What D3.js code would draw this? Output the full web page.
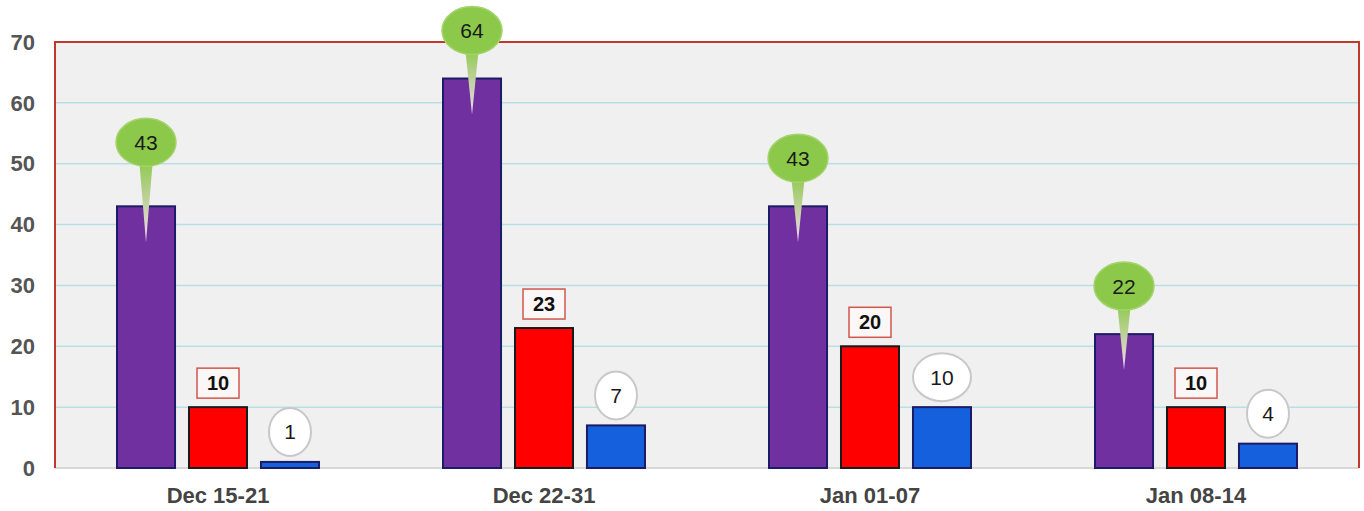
<!DOCTYPE html>
<html>
<head>
  <meta charset="utf-8">
  <title>Weekly counts</title>
  <script src="https://d3js.org/d3.v7.min.js"></script>
  <style>
    body { margin: 0; background: #fff; font-family: "Liberation Sans", Arial, sans-serif; }
  </style>
</head>
<body>
  <div id="chart"></div>
  <script>
    const weeks = ["Dec 15-21", "Dec 22-31", "Jan 01-07", "Jan 08-14"];
    const purpleVals = [43, 64, 43, 22];
    const redVals = [10, 23, 20, 10];
    const blueVals = [1, 7, 10, 4];
    const yTicks = [0, 10, 20, 30, 40, 50, 60, 70];

    const width = 1364, height = 511;
    const margin = { top: 42, right: 5, bottom: 43, left: 55 };
    const svg = d3.select("#chart").append("svg").attr("width", width).attr("height", height);

    const x = d3.scaleBand().domain(weeks).range([margin.left, width - margin.right]);
    const y = d3.scaleLinear().domain([0, 70]).range([height - margin.bottom, margin.top]);
    const sub = d3.scaleBand().domain(["p", "r", "b"])
      .range([x.bandwidth() / 2 - 101, x.bandwidth() / 2 + 101]).paddingInner(0.194);

    // plot background
    svg.append("rect")
      .attr("x", margin.left).attr("y", y(70))
      .attr("width", x.range()[1] - margin.left).attr("height", y(0) - y(70))
      .attr("fill", "#f0f0f0");

    // grid
    svg.selectAll(".grid").data(yTicks.filter(t => t > 0 && t < 70)).enter()
      .append("line")
      .attr("x1", margin.left).attr("x2", x.range()[1])
      .attr("y1", d => y(d)).attr("y2", d => y(d))
      .attr("stroke", "#b9dfe6").attr("stroke-width", 1.5);

    // frame
    svg.append("line").attr("x1", margin.left).attr("x2", x.range()[1])
      .attr("y1", y(0)).attr("y2", y(0)).attr("stroke", "#d8d8d8").attr("stroke-width", 2);
    svg.append("path")
      .attr("d", `M${margin.left},${y(0)}V${y(70)}H${x.range()[1]}V${y(0)}`)
      .attr("fill", "none").attr("stroke", "#c0392b").attr("stroke-width", 2);

    // y axis labels
    svg.selectAll(".ylab").data(yTicks).enter().append("text")
      .attr("x", 35).attr("y", d => y(d)).attr("dy", "0.35em")
      .attr("text-anchor", "end").attr("font-size", 22).attr("font-weight", "bold")
      .attr("fill", "#555").text(d => d);

    // x axis labels
    svg.selectAll(".xlab").data(weeks).enter().append("text")
      .attr("x", d => x(d) + x.bandwidth() / 2).attr("y", 495).attr("dy", "0.35em")
      .attr("text-anchor", "middle").attr("font-size", 22).attr("font-weight", "bold")
      .attr("fill", "#444").text(d => d);

    const series = [
      { key: "p", vals: purpleVals, fill: "#7030a0", stroke: "#1c1c66" },
      { key: "r", vals: redVals, fill: "#ff0000", stroke: "#1a1a1a" },
      { key: "b", vals: blueVals, fill: "#1560dd", stroke: "#1c1c66" }
    ];

    series.forEach(s => {
      svg.selectAll(".bar-" + s.key).data(s.vals).enter().append("rect")
        .attr("x", (d, i) => x(weeks[i]) + sub(s.key))
        .attr("y", d => y(d))
        .attr("width", sub.bandwidth())
        .attr("height", d => y(0) - y(d))
        .attr("fill", s.fill).attr("stroke", s.stroke).attr("stroke-width", 2);
    });

    const cx = (k, i) => x(weeks[i]) + sub(k) + sub.bandwidth() / 2;

    // green pin callouts
    const defs = svg.append("defs");
    const grad = defs.append("linearGradient").attr("id", "tail")
      .attr("x1", 0).attr("y1", 0).attr("x2", 0).attr("y2", 1);
    grad.append("stop").attr("offset", "0%").attr("stop-color", "#8cc94a");
    grad.append("stop").attr("offset", "100%").attr("stop-color", "#f3d9ef");

    purpleVals.forEach((v, i) => {
      const px = cx("p", i), top = y(v);
      const lift = i === 0 ? 64 : 48;
      const ey = top - lift;
      const g = svg.append("g");
      g.append("path")
        .attr("d", `M${px - 7},${ey + 16} L${px},${top + 36} L${px + 7},${ey + 16} Z`)
        .attr("fill", "url(#tail)");
      g.append("ellipse").attr("cx", px).attr("cy", ey).attr("rx", 30).attr("ry", 24)
        .attr("fill", "#8cc94a").attr("stroke", "#a5d46e").attr("stroke-width", 1.5);
      g.append("text").attr("x", px).attr("y", ey).attr("dy", "0.36em")
        .attr("text-anchor", "middle").attr("font-size", 21).attr("fill", "#1a1a1a").text(v);
    });

    // red boxed labels
    redVals.forEach((v, i) => {
      const px = cx("r", i), cy = y(v) - 24;
      svg.append("rect").attr("x", px - 21).attr("y", cy - 15).attr("width", 42).attr("height", 30)
        .attr("fill", "#fbf7f6").attr("stroke", "#d0574c").attr("stroke-width", 1.5);
      svg.append("text").attr("x", px).attr("y", cy).attr("dy", "0.36em")
        .attr("text-anchor", "middle").attr("font-size", 20).attr("font-weight", "bold")
        .attr("fill", "#111").text(v);
    });

    // white oval labels
    blueVals.forEach((v, i) => {
      const px = cx("b", i), cy = y(v) - 30;
      const rx = String(v).length > 1 ? 29 : 21;
      svg.append("ellipse").attr("cx", px).attr("cy", cy).attr("rx", rx).attr("ry", 24)
        .attr("fill", "#fff").attr("stroke", "#c8c8c8").attr("stroke-width", 2);
      svg.append("text").attr("x", px).attr("y", cy).attr("dy", "0.36em")
        .attr("text-anchor", "middle").attr("font-size", 21).attr("fill", "#1a1a1a").text(v);
    });
  </script>
</body>
</html>
